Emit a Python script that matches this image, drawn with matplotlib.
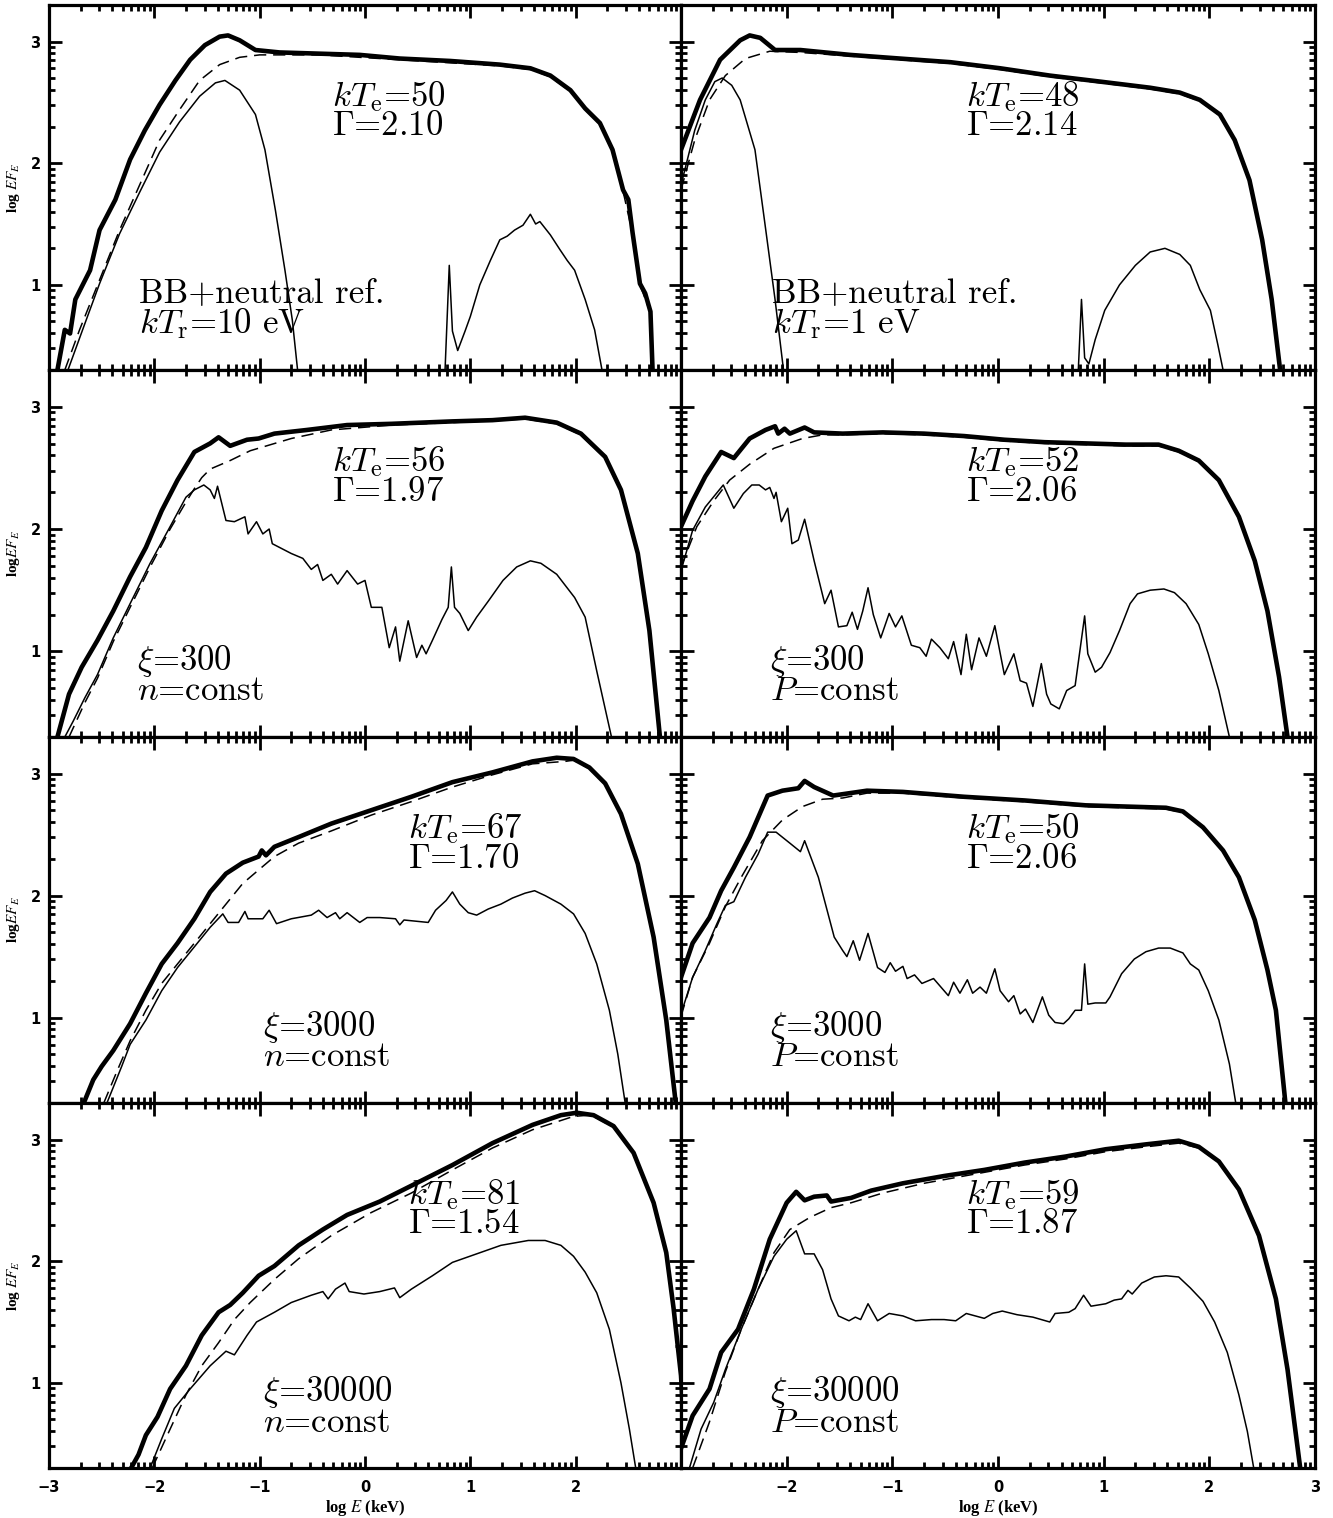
import numpy as np
import matplotlib
matplotlib.use("Agg")
import matplotlib.pyplot as plt
from matplotlib.ticker import FixedLocator

plt.rcParams['mathtext.fontset'] = 'cm'

# ---- data: (log E, log EF_E) pairs ----
# row 1 left: BB + neutral reflection, kT_r = 10 eV
a_tot = np.array([(-2.92, 0.30), (-2.85, 0.63), (-2.80, 0.60), (-2.75, 0.88), (-2.61, 1.12), (-2.52, 1.45),
                  (-2.37, 1.70), (-2.23, 2.03), (-2.09, 2.27), (-1.95, 2.48), (-1.80, 2.68), (-1.66, 2.85),
                  (-1.52, 2.97), (-1.38, 3.04), (-1.30, 3.05), (-1.19, 3.01), (-1.04, 2.93), (-0.81, 2.91),
                  (-0.43, 2.90), (-0.05, 2.89), (0.33, 2.86), (0.81, 2.84), (1.28, 2.81), (1.57, 2.78),
                  (1.76, 2.72), (1.95, 2.60), (2.09, 2.45), (2.23, 2.33), (2.35, 2.11), (2.45, 1.78),
                  (2.50, 1.70), (2.54, 1.43), (2.61, 1.01), (2.66, 0.93), (2.71, 0.78), (2.73, 0.30)])
a_cmp = np.array([(-2.85, 0.30), (-2.71, 0.63), (-2.52, 1.04), (-2.33, 1.45), (-2.14, 1.82), (-1.95, 2.19),
                  (-1.76, 2.44), (-1.57, 2.68), (-1.38, 2.81), (-1.19, 2.87), (-1.00, 2.89), (-0.43, 2.89),
                  (0.33, 2.85), (1.28, 2.80), (1.57, 2.77), (1.76, 2.71), (1.95, 2.59), (2.09, 2.44),
                  (2.23, 2.32), (2.35, 2.10), (2.45, 1.77), (2.54, 1.42), (2.61, 1.00), (2.71, 0.77),
                  (2.73, 0.30)])
a_bb = np.array([(-2.82, 0.30), (-2.66, 0.68), (-2.52, 1.01), (-2.33, 1.42), (-2.14, 1.76), (-1.95, 2.09),
                 (-1.76, 2.34), (-1.57, 2.55), (-1.42, 2.66), (-1.33, 2.68), (-1.19, 2.60), (-1.04, 2.40),
                 (-0.95, 2.11), (-0.85, 1.61), (-0.76, 1.12), (-0.69, 0.71), (-0.64, 0.30)])
a_ref = np.array([(0.76, 0.30), (0.80, 1.16), (0.83, 0.62), (0.88, 0.46), (0.95, 0.62), (1.00, 0.74),
                  (1.09, 1.00), (1.19, 1.20), (1.28, 1.37), (1.35, 1.40), (1.42, 1.45), (1.50, 1.49),
                  (1.57, 1.58), (1.62, 1.50), (1.66, 1.52), (1.76, 1.41), (1.85, 1.29), (1.92, 1.20),
                  (1.99, 1.12), (2.09, 0.88), (2.18, 0.63), (2.25, 0.30)])

# row 1 right: BB + neutral reflection, kT_r = 1 eV
b_tot = np.array([(-3.00, 2.11), (-2.82, 2.52), (-2.63, 2.85), (-2.44, 3.01), (-2.35, 3.05), (-2.25, 3.03),
                  (-2.11, 2.93), (-1.87, 2.93), (-1.40, 2.89), (-0.93, 2.86), (-0.45, 2.83), (0.02, 2.78),
                  (0.49, 2.72), (0.97, 2.67), (1.44, 2.62), (1.72, 2.58), (1.91, 2.52), (2.10, 2.40),
                  (2.24, 2.19), (2.38, 1.86), (2.50, 1.37), (2.59, 0.88), (2.67, 0.30)])
b_cmp = np.array([(-3.00, 1.78), (-2.87, 2.19), (-2.73, 2.52), (-2.58, 2.72), (-2.39, 2.86), (-2.16, 2.92),
                  (-1.87, 2.91), (-1.40, 2.88), (-0.93, 2.85), (-0.45, 2.82), (0.02, 2.77), (0.49, 2.71),
                  (0.97, 2.66), (1.44, 2.61), (1.72, 2.57), (1.91, 2.51), (2.10, 2.39), (2.24, 2.18),
                  (2.38, 1.85), (2.50, 1.36), (2.59, 0.87), (2.67, 0.30)])
b_bb = np.array([(-3.00, 1.82), (-2.87, 2.27), (-2.77, 2.52), (-2.68, 2.67), (-2.61, 2.70), (-2.52, 2.64),
                 (-2.44, 2.52), (-2.30, 2.11), (-2.21, 1.53), (-2.11, 0.88), (-2.03, 0.30)])
b_ref = np.array([(0.76, 0.30), (0.79, 0.88), (0.82, 0.40), (0.86, 0.35), (0.92, 0.55), (1.01, 0.79),
                  (1.15, 1.00), (1.30, 1.16), (1.44, 1.27), (1.58, 1.30), (1.72, 1.25), (1.82, 1.16),
                  (1.91, 0.96), (2.01, 0.79), (2.08, 0.51), (2.13, 0.30)])

# row 2 left: xi = 300, n = const
c_tot = np.array([(-2.92, 0.30), (-2.81, 0.65), (-2.69, 0.87), (-2.54, 1.09), (-2.39, 1.33), (-2.23, 1.61),
                  (-2.08, 1.85), (-1.93, 2.15), (-1.78, 2.40), (-1.62, 2.63), (-1.47, 2.70), (-1.39, 2.75),
                  (-1.28, 2.68), (-1.12, 2.73), (-1.01, 2.74), (-0.86, 2.78), (-0.55, 2.81), (-0.17, 2.85),
                  (0.25, 2.86), (0.83, 2.88), (1.21, 2.89), (1.52, 2.91), (1.82, 2.87), (2.05, 2.78),
                  (2.28, 2.59), (2.43, 2.32), (2.59, 1.80), (2.70, 1.17), (2.80, 0.30)])
c_cmp = np.array([(-2.81, 0.30), (-2.66, 0.58), (-2.54, 0.78), (-2.39, 1.08), (-2.23, 1.36), (-2.04, 1.69),
                  (-1.85, 2.00), (-1.70, 2.22), (-1.62, 2.33), (-1.55, 2.42), (-1.47, 2.49), (-1.28, 2.56),
                  (-1.09, 2.64), (-0.70, 2.74), (-0.32, 2.81), (0.25, 2.85), (0.83, 2.87), (1.52, 2.90),
                  (1.82, 2.86), (2.05, 2.77), (2.28, 2.58), (2.43, 2.31), (2.59, 1.79), (2.70, 1.16),
                  (2.80, 0.30)])
c_ref = np.array([(-2.85, 0.30), (-2.77, 0.43), (-2.66, 0.62), (-2.54, 0.81), (-2.39, 1.11), (-2.23, 1.39),
                  (-2.04, 1.72), (-1.85, 2.02), (-1.70, 2.26), (-1.62, 2.32), (-1.53, 2.36), (-1.47, 2.32),
                  (-1.43, 2.25), (-1.40, 2.35), (-1.32, 2.07), (-1.24, 2.06), (-1.14, 2.10), (-1.11, 1.96),
                  (-1.03, 2.06), (-0.97, 1.96), (-0.91, 2.00), (-0.88, 1.88), (-0.70, 1.80), (-0.59, 1.76),
                  (-0.51, 1.67), (-0.45, 1.71), (-0.40, 1.58), (-0.32, 1.63), (-0.26, 1.55), (-0.17, 1.66),
                  (-0.07, 1.55), (0.00, 1.58), (0.06, 1.36), (0.16, 1.36), (0.23, 1.03), (0.29, 1.20),
                  (0.33, 0.92), (0.41, 1.25), (0.49, 0.95), (0.54, 1.05), (0.58, 0.98), (0.64, 1.09),
                  (0.73, 1.26), (0.79, 1.36), (0.82, 1.69), (0.85, 1.36), (0.90, 1.31), (0.98, 1.17),
                  (1.06, 1.28), (1.17, 1.41), (1.31, 1.58), (1.44, 1.69), (1.57, 1.74), (1.67, 1.72),
                  (1.82, 1.63), (1.99, 1.44), (2.09, 1.28), (2.20, 0.84), (2.34, 0.30)])

# row 2 right: xi = 300, P = const
d_tot = np.array([(-3.00, 2.02), (-2.89, 2.23), (-2.77, 2.43), (-2.62, 2.63), (-2.50, 2.58), (-2.35, 2.74),
                  (-2.20, 2.81), (-2.11, 2.84), (-2.08, 2.78), (-2.02, 2.82), (-1.97, 2.78), (-1.83, 2.83),
                  (-1.74, 2.79), (-1.47, 2.78), (-1.09, 2.79), (-0.70, 2.78), (-0.32, 2.76), (0.06, 2.73),
                  (0.44, 2.71), (0.83, 2.70), (1.21, 2.69), (1.52, 2.69), (1.71, 2.64), (1.90, 2.56),
                  (2.09, 2.40), (2.28, 2.10), (2.43, 1.74), (2.55, 1.33), (2.66, 0.79), (2.74, 0.30)])
d_cmp = np.array([(-3.00, 1.69), (-2.85, 2.02), (-2.69, 2.23), (-2.54, 2.40), (-2.35, 2.53), (-2.12, 2.66),
                  (-1.85, 2.74), (-1.66, 2.77), (-1.47, 2.77), (-1.09, 2.78), (-0.70, 2.77), (-0.32, 2.75),
                  (0.06, 2.72), (0.44, 2.70), (0.83, 2.69), (1.21, 2.68), (1.52, 2.68), (1.71, 2.63),
                  (1.90, 2.55), (2.09, 2.39), (2.28, 2.09), (2.43, 1.73), (2.55, 1.32), (2.66, 0.78),
                  (2.74, 0.30)])
d_ref = np.array([(-3.00, 1.66), (-2.89, 1.99), (-2.77, 2.18), (-2.60, 2.36), (-2.50, 2.17), (-2.41, 2.29),
                  (-2.33, 2.36), (-2.26, 2.36), (-2.20, 2.32), (-2.16, 2.34), (-2.12, 2.25), (-2.10, 2.30),
                  (-2.05, 2.06), (-1.99, 2.17), (-1.95, 1.88), (-1.89, 1.91), (-1.83, 2.08), (-1.74, 1.74),
                  (-1.64, 1.39), (-1.58, 1.50), (-1.51, 1.20), (-1.43, 1.21), (-1.38, 1.32), (-1.33, 1.18),
                  (-1.28, 1.33), (-1.23, 1.52), (-1.18, 1.30), (-1.11, 1.11), (-1.03, 1.31), (-0.97, 1.20),
                  (-0.91, 1.29), (-0.82, 1.05), (-0.74, 1.03), (-0.68, 0.96), (-0.63, 1.10), (-0.55, 1.03),
                  (-0.47, 0.94), (-0.42, 1.08), (-0.35, 0.81), (-0.30, 1.14), (-0.25, 0.85), (-0.18, 1.11),
                  (-0.11, 0.96), (-0.03, 1.21), (0.06, 0.81), (0.15, 0.98), (0.21, 0.76), (0.27, 0.74),
                  (0.33, 0.55), (0.41, 0.90), (0.46, 0.65), (0.50, 0.57), (0.58, 0.53), (0.65, 0.68),
                  (0.73, 0.72), (0.82, 1.29), (0.85, 0.98), (0.92, 0.83), (0.98, 0.87), (1.06, 0.99),
                  (1.15, 1.17), (1.25, 1.39), (1.32, 1.47), (1.44, 1.50), (1.57, 1.51), (1.67, 1.48),
                  (1.78, 1.39), (1.90, 1.22), (1.99, 0.98), (2.09, 0.68), (2.19, 0.30)])

# row 3 left: xi = 3000, n = const
e_tot = np.array([(-2.67, 0.30), (-2.58, 0.49), (-2.50, 0.60), (-2.39, 0.73), (-2.23, 0.95), (-2.08, 1.20),
                  (-1.93, 1.44), (-1.78, 1.61), (-1.62, 1.81), (-1.47, 2.03), (-1.32, 2.18), (-1.16, 2.27),
                  (-1.01, 2.32), (-0.98, 2.37), (-0.94, 2.33), (-0.86, 2.40), (-0.63, 2.48), (-0.32, 2.59),
                  (0.06, 2.70), (0.44, 2.81), (0.83, 2.93), (1.21, 3.01), (1.59, 3.10), (1.82, 3.13),
                  (1.98, 3.12), (2.13, 3.05), (2.28, 2.92), (2.43, 2.67), (2.59, 2.26), (2.74, 1.66),
                  (2.86, 0.98), (2.95, 0.30)])
e_cmp = np.array([(-2.48, 0.30), (-2.35, 0.57), (-2.23, 0.81), (-2.08, 1.06), (-1.93, 1.28), (-1.78, 1.44),
                  (-1.62, 1.61), (-1.47, 1.77), (-1.32, 1.93), (-1.16, 2.10), (-1.01, 2.21), (-0.86, 2.32),
                  (-0.63, 2.43), (-0.32, 2.53), (0.06, 2.66), (0.44, 2.77), (0.83, 2.89), (1.21, 2.99),
                  (1.59, 3.08), (1.90, 3.10), (1.98, 3.11), (2.13, 3.04), (2.28, 2.91), (2.43, 2.66),
                  (2.59, 2.25), (2.74, 1.65), (2.86, 0.97), (2.95, 0.30)])
e_ref = np.array([(-2.45, 0.30), (-2.31, 0.60), (-2.23, 0.78), (-2.08, 0.98), (-1.93, 1.22), (-1.78, 1.41),
                  (-1.62, 1.58), (-1.47, 1.74), (-1.35, 1.85), (-1.30, 1.78), (-1.20, 1.78), (-1.14, 1.87),
                  (-1.11, 1.81), (-0.97, 1.81), (-0.91, 1.88), (-0.84, 1.77), (-0.70, 1.81), (-0.51, 1.84),
                  (-0.44, 1.88), (-0.36, 1.82), (-0.28, 1.86), (-0.24, 1.81), (-0.17, 1.86), (-0.05, 1.78),
                  (0.02, 1.82), (0.14, 1.82), (0.29, 1.81), (0.33, 1.76), (0.37, 1.80), (0.60, 1.78),
                  (0.67, 1.88), (0.77, 1.96), (0.83, 2.03), (0.90, 1.93), (0.98, 1.86), (1.06, 1.84),
                  (1.17, 1.89), (1.29, 1.93), (1.40, 1.98), (1.52, 2.02), (1.61, 2.04), (1.71, 2.00),
                  (1.86, 1.93), (1.98, 1.85), (2.09, 1.69), (2.20, 1.44), (2.32, 1.06), (2.40, 0.70),
                  (2.47, 0.30)])

# row 3 right: xi = 3000, P = const
f_tot = np.array([(-3.00, 1.33), (-2.89, 1.61), (-2.73, 1.82), (-2.62, 2.04), (-2.50, 2.23), (-2.35, 2.48),
                  (-2.18, 2.82), (-2.04, 2.86), (-1.89, 2.88), (-1.83, 2.94), (-1.74, 2.89), (-1.56, 2.82),
                  (-1.24, 2.86), (-0.90, 2.85), (-0.32, 2.81), (0.25, 2.78), (0.83, 2.74), (1.21, 2.73),
                  (1.59, 2.72), (1.75, 2.69), (1.94, 2.56), (2.13, 2.37), (2.28, 2.15), (2.43, 1.80),
                  (2.55, 1.39), (2.63, 1.06), (2.72, 0.30)])
f_cmp = np.array([(-3.00, 1.01), (-2.89, 1.33), (-2.73, 1.61), (-2.58, 1.91), (-2.43, 2.15), (-2.23, 2.45),
                  (-2.04, 2.62), (-1.85, 2.73), (-1.66, 2.79), (-1.47, 2.80), (-1.24, 2.84), (-0.90, 2.84),
                  (-0.32, 2.80), (0.25, 2.77), (0.83, 2.73), (1.21, 2.72), (1.59, 2.71), (1.75, 2.68),
                  (1.94, 2.55), (2.13, 2.36), (2.28, 2.14), (2.43, 1.79), (2.55, 1.38), (2.63, 1.05),
                  (2.72, 0.30)])
f_ref = np.array([(-3.00, 1.03), (-2.89, 1.33), (-2.77, 1.55), (-2.66, 1.77), (-2.58, 1.92), (-2.50, 1.95),
                  (-2.39, 2.15), (-2.27, 2.34), (-2.18, 2.52), (-2.10, 2.52), (-1.97, 2.43), (-1.87, 2.36),
                  (-1.83, 2.45), (-1.70, 2.15), (-1.55, 1.66), (-1.47, 1.55), (-1.43, 1.50), (-1.37, 1.63),
                  (-1.31, 1.47), (-1.23, 1.69), (-1.14, 1.41), (-1.07, 1.37), (-1.02, 1.45), (-0.97, 1.38),
                  (-0.90, 1.42), (-0.86, 1.32), (-0.79, 1.35), (-0.72, 1.28), (-0.61, 1.32), (-0.47, 1.18),
                  (-0.42, 1.29), (-0.36, 1.20), (-0.29, 1.31), (-0.24, 1.20), (-0.17, 1.25), (-0.11, 1.20),
                  (-0.03, 1.40), (0.02, 1.22), (0.10, 1.13), (0.15, 1.18), (0.21, 1.03), (0.26, 1.07),
                  (0.33, 0.96), (0.42, 1.17), (0.48, 1.02), (0.54, 0.96), (0.62, 0.95), (0.67, 0.99),
                  (0.73, 1.06), (0.79, 1.06), (0.82, 1.44), (0.85, 1.11), (0.92, 1.12), (1.02, 1.12),
                  (1.06, 1.17), (1.17, 1.36), (1.29, 1.48), (1.40, 1.54), (1.52, 1.57), (1.63, 1.57),
                  (1.75, 1.53), (1.82, 1.44), (1.90, 1.39), (1.99, 1.22), (2.09, 0.98), (2.19, 0.62),
                  (2.25, 0.30)])

# row 4 left: xi = 30000, n = const
g_tot = np.array([(-2.22, 0.30), (-2.15, 0.41), (-2.08, 0.57), (-1.97, 0.72), (-1.85, 0.95), (-1.70, 1.14),
                  (-1.55, 1.39), (-1.39, 1.58), (-1.28, 1.64), (-1.16, 1.74), (-1.01, 1.88), (-0.86, 1.96),
                  (-0.63, 2.13), (-0.40, 2.26), (-0.17, 2.38), (0.14, 2.49), (0.44, 2.62), (0.83, 2.79),
                  (1.21, 2.97), (1.59, 3.12), (1.86, 3.20), (2.01, 3.22), (2.17, 3.20), (2.36, 3.11),
                  (2.55, 2.89), (2.74, 2.48), (2.86, 2.07), (2.93, 1.61), (3.00, 1.06), (3.05, 0.30)])
g_cmp = np.array([(-2.02, 0.30), (-1.85, 0.62), (-1.70, 0.90), (-1.55, 1.14), (-1.39, 1.33), (-1.24, 1.52),
                  (-1.09, 1.66), (-0.86, 1.85), (-0.63, 2.02), (-0.32, 2.21), (0.06, 2.40), (0.44, 2.56),
                  (0.83, 2.75), (1.21, 2.93), (1.59, 3.08), (1.98, 3.19), (2.13, 3.20), (2.17, 3.19),
                  (2.36, 3.10), (2.55, 2.88), (2.74, 2.47), (2.86, 2.06), (2.93, 1.60), (3.00, 1.05),
                  (3.05, 0.30)])
g_ref = np.array([(-2.04, 0.30), (-1.93, 0.54), (-1.81, 0.79), (-1.66, 0.95), (-1.47, 1.14), (-1.32, 1.26),
                  (-1.24, 1.23), (-1.12, 1.39), (-1.03, 1.50), (-0.86, 1.58), (-0.70, 1.66), (-0.51, 1.72),
                  (-0.40, 1.75), (-0.35, 1.69), (-0.28, 1.77), (-0.19, 1.82), (-0.15, 1.75), (-0.01, 1.73),
                  (0.14, 1.75), (0.28, 1.78), (0.33, 1.70), (0.44, 1.77), (0.64, 1.88), (0.83, 1.99),
                  (1.06, 2.06), (1.29, 2.13), (1.55, 2.17), (1.71, 2.17), (1.86, 2.13), (1.98, 2.04),
                  (2.09, 1.91), (2.20, 1.74), (2.32, 1.44), (2.43, 1.00), (2.51, 0.62), (2.57, 0.30)])

# row 4 right: xi = 30000, P = const
h_tot = np.array([(-3.00, 0.46), (-2.89, 0.73), (-2.73, 0.95), (-2.62, 1.25), (-2.46, 1.44), (-2.31, 1.77),
                  (-2.16, 2.18), (-2.00, 2.48), (-1.91, 2.57), (-1.83, 2.50), (-1.74, 2.53), (-1.62, 2.54),
                  (-1.58, 2.49), (-1.39, 2.52), (-1.20, 2.58), (-0.90, 2.64), (-0.51, 2.70), (-0.13, 2.75),
                  (0.25, 2.81), (0.64, 2.86), (1.02, 2.92), (1.40, 2.96), (1.71, 2.99), (1.90, 2.94),
                  (2.09, 2.82), (2.28, 2.59), (2.47, 2.21), (2.63, 1.69), (2.74, 1.11), (2.86, 0.30)])
h_cmp = np.array([(-2.89, 0.30), (-2.73, 0.68), (-2.58, 1.09), (-2.43, 1.44), (-2.27, 1.77), (-2.12, 2.07),
                  (-1.97, 2.26), (-1.78, 2.36), (-1.58, 2.44), (-1.39, 2.48), (-1.09, 2.56), (-0.70, 2.64),
                  (-0.32, 2.70), (0.25, 2.79), (0.64, 2.84), (1.02, 2.90), (1.40, 2.94), (1.71, 2.97),
                  (1.90, 2.93), (2.09, 2.81), (2.28, 2.58), (2.47, 2.20), (2.63, 1.68), (2.74, 1.10),
                  (2.86, 0.30)])
h_ref = np.array([(-2.92, 0.30), (-2.81, 0.62), (-2.69, 0.84), (-2.58, 1.11), (-2.43, 1.44), (-2.27, 1.77),
                  (-2.12, 2.04), (-2.00, 2.18), (-1.91, 2.25), (-1.83, 2.06), (-1.74, 2.06), (-1.66, 1.93),
                  (-1.58, 1.69), (-1.51, 1.55), (-1.41, 1.51), (-1.35, 1.54), (-1.30, 1.52), (-1.23, 1.65),
                  (-1.14, 1.51), (-1.03, 1.57), (-0.90, 1.55), (-0.78, 1.51), (-0.63, 1.52), (-0.51, 1.52),
                  (-0.40, 1.51), (-0.30, 1.57), (-0.13, 1.53), (-0.05, 1.57), (0.04, 1.59), (0.18, 1.56),
                  (0.33, 1.54), (0.49, 1.50), (0.54, 1.57), (0.67, 1.58), (0.73, 1.61), (0.81, 1.72),
                  (0.88, 1.63), (1.02, 1.65), (1.10, 1.68), (1.17, 1.69), (1.23, 1.76), (1.27, 1.73),
                  (1.36, 1.82), (1.48, 1.87), (1.59, 1.88), (1.71, 1.87), (1.82, 1.78), (1.94, 1.67),
                  (2.05, 1.50), (2.17, 1.25), (2.28, 0.90), (2.36, 0.60), (2.42, 0.30)])

kte_labels = ['50', '48', '56', '52', '67', '50', '81', '59']
gamma_labels = ['2.10', '2.14', '1.97', '2.06', '1.70', '2.06', '1.54', '1.87']
xi_labels = ['300', '300', '3000', '3000', '30000', '30000']
ylabels = [r'log $EF_E$', r'log$EF_E$', r'log$EF_E$', r'log $EF_E$']

panels = [
    dict(tot=a_tot, cmp=a_cmp, ref=a_ref, bb=a_bb),
    dict(tot=b_tot, cmp=b_cmp, ref=b_ref, bb=b_bb),
    dict(tot=c_tot, cmp=c_cmp, ref=c_ref),
    dict(tot=d_tot, cmp=d_cmp, ref=d_ref),
    dict(tot=e_tot, cmp=e_cmp, ref=e_ref),
    dict(tot=f_tot, cmp=f_cmp, ref=f_ref),
    dict(tot=g_tot, cmp=g_cmp, ref=g_ref),
    dict(tot=h_tot, cmp=h_cmp, ref=h_ref),
]

# bottom-left labels of each panel (two lines)
low_text = [
    'BB+neutral ref.\n' + r'$kT_{\rm r}$=10 eV',
    'BB+neutral ref.\n' + r'$kT_{\rm r}$=1 eV',
]
for i, xi in enumerate(xi_labels):
    second = r'$n$=const' if i % 2 == 0 else r'$P$=const'
    low_text.append(r'$\xi$=%s' % xi + '\n' + second)
low_x = [-2.15, -2.14, -2.16, -2.16, -0.97, -2.16, -0.97, -2.16]
kte_x = [-0.31, -0.30, -0.31, -0.30, 0.41, -0.30, 0.41, -0.30]

major = np.arange(-3, 4)
minor = np.array([n + np.log10(k) for n in range(-3, 4) for k in range(2, 10)])

fig = plt.figure(figsize=(13.33, 15.18), dpi=100)
W, H = 1333.0, 1518.0
col_px = [(49, 632), (681, 634)]
row_px = [(5, 370), (370, 737), (737, 1103), (1103, 1468)]
# va='baseline' on a two-line text anchors the baseline of the last line
note = dict(fontsize=25, family='cmr10', va='baseline', linespacing=0.87)

for i, p in enumerate(panels):
    r, c = divmod(i, 2)
    x0, w = col_px[c]
    top, bot = row_px[r]
    ax = fig.add_axes([x0 / W, 1 - bot / H, w / W, (bot - top) / H])

    ax.plot(p['tot'][:, 0], p['tot'][:, 1], color='k', lw=3.3)
    ax.plot(p['cmp'][:, 0], p['cmp'][:, 1], color='k', lw=1.1, ls=(0, (8, 4.5)))
    ax.plot(p['ref'][:, 0], p['ref'][:, 1], color='k', lw=1.1)
    if 'bb' in p:
        ax.plot(p['bb'][:, 0], p['bb'][:, 1], color='k', lw=1.1)

    ax.set_xlim(-3, 3)
    ax.set_ylim(0.3, 3.3)
    ax.xaxis.set_major_locator(FixedLocator(major))
    ax.xaxis.set_minor_locator(FixedLocator(minor))
    ax.yaxis.set_major_locator(FixedLocator([1, 2, 3]))
    ax.yaxis.set_minor_locator(FixedLocator(minor))
    ax.tick_params(which='both', direction='in', top=True, right=True, width=2.0,
                   labelsize=10.5)
    ax.tick_params(which='major', length=9)
    ax.tick_params(which='minor', length=4.5)
    ax.tick_params(axis='x', pad=9)
    ax.tick_params(axis='y', pad=6)
    for s in ax.spines.values():
        s.set_linewidth(2.3)

    if c == 0:
        ax.set_yticks([1, 2, 3])
        ax.set_yticklabels(['1', '2', '3'], fontweight='bold')
        ax.set_ylabel(ylabels[r], fontsize=11, fontweight='bold', family='Liberation Serif',
                      math_fontfamily='stix')
        ax.yaxis.set_label_coords(-0.043, 0.5)
    else:
        ax.set_yticklabels([])

    if r == 3:
        lab = ['\u22123', '\u22122', '\u22121', '0', '1', '2', '3']
        if c == 0:
            lab[-1] = ''
        else:
            lab[0] = ''
        ax.set_xticks(major)
        ax.set_xticklabels(lab, fontweight='bold')
        ax.set_xlabel(r'log $E$ (keV)', fontsize=12, fontweight='bold', family='Liberation Serif',
                      math_fontfamily='stix', labelpad=2)
    else:
        ax.set_xticklabels([])

    ax.text(kte_x[i], 2.23, r'$kT_{\rm e}$=%s' % kte_labels[i] + '\n' + r'$\Gamma$=%s' % gamma_labels[i],
            **note)
    ax.text(low_x[i], 0.60, low_text[i], **note)

fig.savefig('out.png', dpi=100)
